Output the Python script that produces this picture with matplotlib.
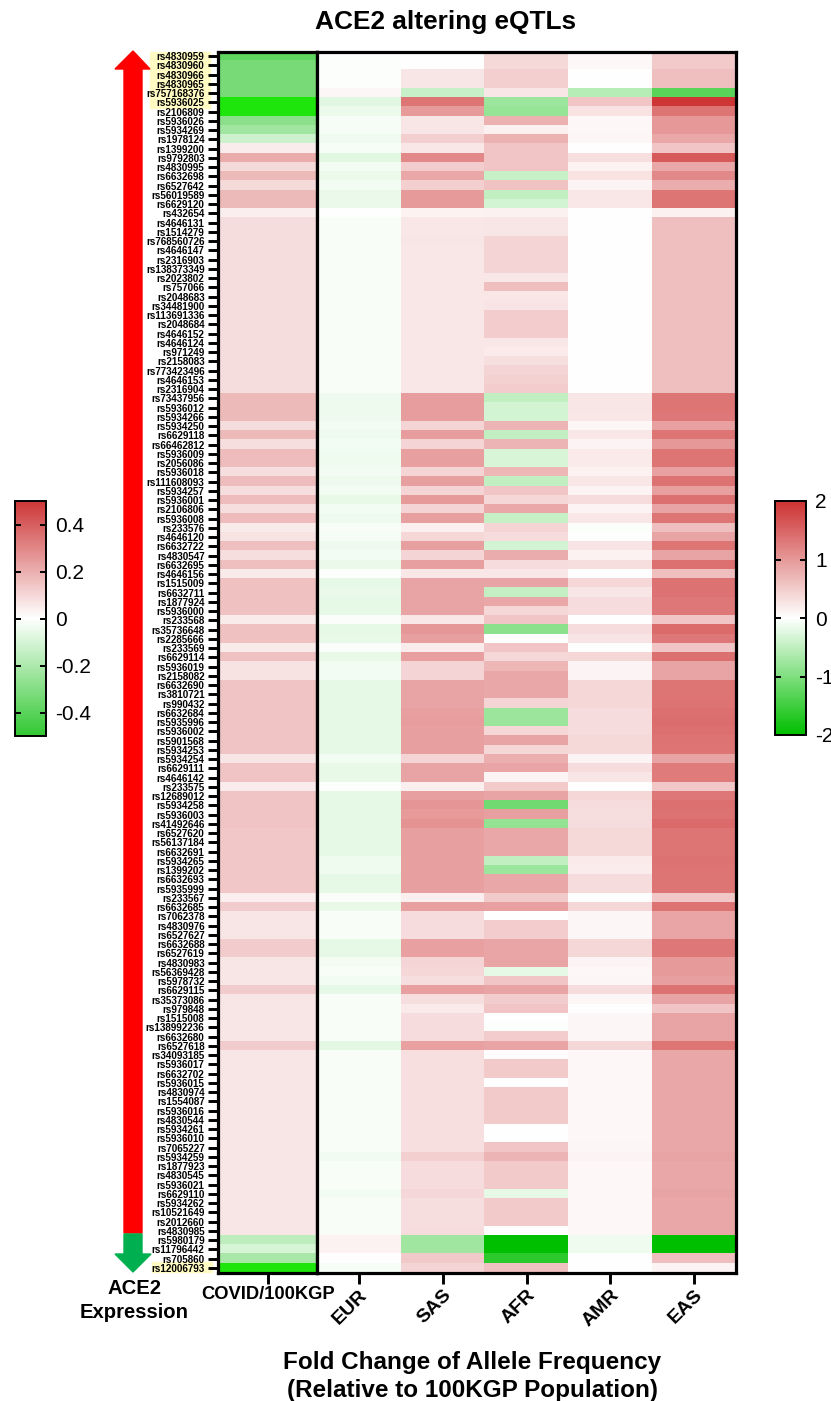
import matplotlib
matplotlib.use("Agg")
import matplotlib.pyplot as plt
import numpy as np
from matplotlib.cm import ScalarMappable
from matplotlib.colors import LinearSegmentedColormap, Normalize
from matplotlib.patches import Polygon, Rectangle

plt.rcParams['font.family'] = ['Liberation Sans', 'DejaVu Sans']
plt.rcParams['axes.unicode_minus'] = False

snps = ['rs4830959', 'rs4830960', 'rs4830966', 'rs4830965', 'rs757168376', 'rs5936025', 'rs2106809', 'rs5936026', 'rs5934269', 'rs1978124',
        'rs1399200', 'rs9792803', 'rs4830995', 'rs6632698', 'rs6527642', 'rs56019589', 'rs6629120', 'rs432654', 'rs4646131', 'rs1514279',
        'rs768560726', 'rs4646147', 'rs2316903', 'rs138373349', 'rs2023802', 'rs757066', 'rs2048683', 'rs34481900', 'rs113691336', 'rs2048684',
        'rs4646152', 'rs4646124', 'rs971249', 'rs2158083', 'rs773423496', 'rs4646153', 'rs2316904', 'rs73437956', 'rs5936012', 'rs5934266',
        'rs5934250', 'rs6629118', 'rs66462812', 'rs5936009', 'rs2056086', 'rs5936018', 'rs111608093', 'rs5934257', 'rs5936001', 'rs2106806',
        'rs5936008', 'rs233576', 'rs4646120', 'rs6632722', 'rs4830547', 'rs6632695', 'rs4646156', 'rs1515009', 'rs6632711', 'rs1877924',
        'rs5936000', 'rs233568', 'rs35736648', 'rs2285666', 'rs233569', 'rs6629114', 'rs5936019', 'rs2158082', 'rs6632690', 'rs3810721',
        'rs990432', 'rs6632684', 'rs5935996', 'rs5936002', 'rs5901568', 'rs5934253', 'rs5934254', 'rs6629111', 'rs4646142', 'rs233575',
        'rs12689012', 'rs5934258', 'rs5936003', 'rs41492646', 'rs6527620', 'rs56137184', 'rs6632691', 'rs5934265', 'rs1399202', 'rs6632693',
        'rs5935999', 'rs233567', 'rs6632685', 'rs7062378', 'rs4830976', 'rs6527627', 'rs6632688', 'rs6527619', 'rs4830983', 'rs56369428',
        'rs5978732', 'rs6629115', 'rs35373086', 'rs979848', 'rs1515008', 'rs138992236', 'rs6632680', 'rs6527618', 'rs34093185', 'rs5936017',
        'rs6632702', 'rs5936015', 'rs4830974', 'rs1554087', 'rs5936016', 'rs4830544', 'rs5934261', 'rs5936010', 'rs7065227', 'rs5934259',
        'rs1877923', 'rs4830545', 'rs5936021', 'rs6629110', 'rs5934262', 'rs10521649', 'rs2012660', 'rs4830985', 'rs5980179', 'rs11796442',
        'rs705860', 'rs12006793']

covid = [-.39, -.33, -.33, -.33, -.33, -.6, -.6, -.28, -.23, -.125,
         .045, .21, .09, .17, .09, .17, .17, .04, .085, .085,
         .085, .085, .085, .085, .085, .085, .085, .085, .085, .085,
         .085, .085, .085, .085, .085, .085, .085, .17, .17, .17,
         .085, .17, .08, .165, .165, .08, .165, .08, .165, .08,
         .165, .05, .07, .16, .08, .16, .05, .155, .155, .155,
         .155, .05, .155, .155, .05, .155, .07, .07, .145, .145,
         .145, .145, .145, .145, .145, .145, .06, .145, .145, .045,
         .145, .145, .145, .145, .14, .14, .14, .14, .14, .14,
         .14, .04, .125, .065, .065, .065, .125, .125, .06, .06,
         .06, .125, .065, .06, .065, .06, .06, .125, .065, .065,
         .065, .065, .065, .065, .065, .065, .065, .065, .065, .065,
         .065, .065, .065, .065, .065, .065, .065, .065, -.16, -.1,
         -.21, -.6]

eur = [-.02, -.02, -.02, -.02, .08, -.22, -.15, -.07, -.07, -.12,
       -.07, -.24, -.08, -.15, -.09, -.16, -.16, 0, -.05, -.05,
       -.05, -.05, -.05, -.05, -.05, -.05, -.05, -.05, -.05, -.05,
       -.05, -.05, -.05, -.05, -.05, -.05, -.05, -.14, -.14, -.14,
       -.08, -.14, -.09, -.12, -.12, -.08, -.14, -.09, -.18, -.08,
       -.14, -.05, -.07, -.14, -.08, -.17, -.02, -.19, -.16, -.2,
       -.2, -.04, -.2, -.18, -.04, -.18, -.09, -.09, -.2, -.2,
       -.2, -.2, -.2, -.2, -.2, -.2, -.08, -.18, -.18, -.03,
       -.2, -.2, -.2, -.2, -.2, -.2, -.2, -.12, -.12, -.2,
       -.2, -.04, -.18, -.05, -.05, -.05, -.2, -.2, -.08, -.05,
       -.08, -.2, -.06, -.05, -.06, -.05, -.05, -.21, -.06, -.06,
       -.06, -.06, -.06, -.06, -.06, -.06, -.06, -.06, -.06, -.1,
       -.06, -.06, -.06, -.09, -.06, -.06, -.06, -.06, .12, .12,
       0, -.07]

sas = [0, 0, .24, .24, -.43, 1.33, .98, .24, .24, .46,
       .22, 1.15, .48, .85, .46, .98, .98, .12, .22, .22,
       .24, .22, .22, .22, .22, .22, .22, .22, .22, .22,
       .22, .22, .22, .22, .22, .22, .22, .95, .95, .95,
       .41, .95, .41, .93, .93, .41, .93, .42, .97, .41,
       .93, .15, .38, .93, .41, .93, .22, .89, .89, .89,
       .89, .22, 1.0, .93, .18, .93, .42, .42, .89, .89,
       .88, .93, .95, .93, .93, .93, .41, .89, .89, .17,
       .93, 1.03, .97, 1.05, .93, .93, .93, .93, .93, .93,
       .93, .17, .93, .34, .34, .34, .91, .91, .41, .38,
       .32, .93, .32, .19, .34, .34, .34, .91, .31, .31,
       .31, .31, .31, .31, .31, .31, .31, .31, .31, .46,
       .33, .33, .33, .38, .32, .32, .32, .34, -.74, -.74,
       .52, .42]

afr = [.36, .36, .46, .46, .24, -.78, -.82, .74, .13, .74,
       .56, .56, .56, -.45, .58, -.48, -.33, .13, .24, .24,
       .42, .42, .42, .42, .22, .62, .22, .25, .47, .47,
       .47, .22, .2, .3, .42, .45, .48, -.48, -.33, -.33,
       .72, -.48, .72, -.3, -.3, .7, -.48, .55, .38, .83,
       -.45, .42, .34, -.34, .8, .34, .22, .89, -.46, .85,
       .38, .55, -.9, 0, .56, .38, .7, .85, .85, .85,
       .41, -.78, -.78, .38, .89, .38, .77, .87, .1, .5,
       .89, -1.1, .93, -.83, .85, .85, .85, -.47, -.77, .85,
       .85, .5, .91, 0, .48, .48, .87, .87, .87, -.2,
       .55, .89, .48, .55, 0, -.02, .48, .87, .02, .5,
       .5, 0, .5, .5, .5, .5, 0, 0, .55, .72,
       .5, .5, .5, -.2, .5, .5, .5, 0, -2, -2,
       -1.65, .58]

amr = [.07, .07, 0, 0, -.57, .56, .28, .07, .07, .09,
       0, .3, .12, .28, .1, .22, .22, 0, .01, .01,
       .01, .01, .01, .01, .01, .01, .01, .01, .01, .01,
       .01, .01, .01, .01, .01, .01, .01, .24, .24, .22,
       .09, .22, .1, .2, .2, .11, .22, .1, .34, .1,
       .22, -.02, .01, .26, .12, .32, 0, .38, .24, .34,
       .34, 0, .34, .26, 0, .38, .1, .1, .38, .38,
       .38, .34, .34, .34, .36, .36, .1, .34, .24, 0,
       .38, .34, .32, .34, .36, .36, .36, .2, .18, .34,
       .34, 0, .38, .09, .09, .09, .38, .38, .1, .07,
       .09, .34, .09, 0, .09, .09, .09, .38, .07, .07,
       .07, .07, .07, .07, .07, .07, .07, .07, .08, .1,
       .07, .07, .07, .07, .07, .07, .07, .07, -.12, -.12,
       0, 0]

eas = [.5, .5, .62, .62, -1.29, 1.95, 1.34, .99, .99, .85,
       .56, 1.6, .85, 1.15, .8, 1.34, 1.34, .13, .62, .62,
       .62, .62, .62, .62, .62, .62, .62, .62, .62, .62,
       .62, .62, .62, .62, .62, .62, .62, 1.33, 1.33, 1.3,
       .91, 1.34, .99, 1.34, 1.34, .91, 1.36, .93, 1.39, .89,
       1.34, .62, .89, 1.34, .89, 1.39, .62, 1.36, 1.36, 1.3,
       1.3, .56, 1.43, 1.3, .56, 1.39, .89, .89, 1.33, 1.33,
       1.35, 1.39, 1.42, 1.39, 1.35, 1.33, .89, 1.28, 1.28, .54,
       1.3, 1.39, 1.36, 1.43, 1.33, 1.33, 1.33, 1.36, 1.34, 1.33,
       1.33, .54, 1.36, .87, .87, .87, 1.3, 1.3, .97, .97,
       .93, 1.36, .89, .56, .89, .89, .89, 1.33, .85, .85,
       .85, .85, .85, .85, .85, .85, .85, .85, .85, .89,
       .85, .85, .85, .89, .85, .85, .85, .85, -2, -2,
       .62, .1]

pop_labels = ['EUR', 'SAS', 'AFR', 'AMR', 'EAS']
left_ticks = [-0.4, -0.2, 0, 0.2, 0.4]
left_tick_labels = ['-0.4', '-0.2', '0', '0.2', '0.4']
right_ticks = [-2, -1, 0, 1, 2]

W, H = 831, 1401
fig = plt.figure(figsize=(W / 100, H / 100), dpi=100)


def px_box(x0, y0, x1, y1):
    # pixel box (top left origin) to figure coordinates
    return [x0 / W, 1 - y1 / H, (x1 - x0) / W, (y1 - y0) / H]


def fx(x):
    return x / W


def fy(y):
    return 1 - y / H


cmap_left = LinearSegmentedColormap.from_list('left', ['#32c832', '#ffffff', '#cd3737'])
cmap_left.set_under('#1ee60c')  # rows past the end of the scale are brighter
cmap_right = LinearSegmentedColormap.from_list('right', ['#00be00', '#ffffff', '#cd3232'])
norm_left = Normalize(-0.5, 0.5)
norm_right = Normalize(-2, 2)

ax1 = fig.add_axes(px_box(218.5, 51.5, 317, 1272.5))
ax2 = fig.add_axes(px_box(317, 51.5, 736, 1272.5))

ax1.imshow(np.array(covid).reshape(-1, 1), aspect='auto', cmap=cmap_left, norm=norm_left, interpolation='nearest')
ax2.imshow(np.column_stack([eur, sas, afr, amr, eas]), aspect='auto', cmap=cmap_right, norm=norm_right, interpolation='nearest')

ax1.set_yticks(np.arange(len(snps)))
ax1.set_yticklabels(snps, fontsize=7.1, fontweight='bold')
ax1.tick_params(axis='y', length=7.5, width=2.1, pad=2.5)
ax1.set_xticks([0])
ax1.set_xticklabels(['COVID/100KGP'], fontsize=13.2, fontweight='bold')
ax1.tick_params(axis='x', length=8, width=2.1, pad=1.5)

ax2.set_yticks([])
ax2.set_xticks(np.arange(len(pop_labels)))
ax2.set_xticklabels(pop_labels, fontsize=14, fontweight='bold', rotation=45, ha='right', rotation_mode='anchor')
ax2.tick_params(axis='x', length=8, width=2.1, pad=2)

for ax in [ax1, ax2]:
    for s in ax.spines.values():
        s.set_linewidth(2.3)

# yellow behind the top and bottom labels
fig.patches.append(Rectangle((fx(150), fy(108)), 60 / W, 56 / H, transform=fig.transFigure, color='#fffbc2', zorder=-1))
fig.patches.append(Rectangle((fx(152), fy(1272)), 60 / W, 10 / H, transform=fig.transFigure, color='#fffbc2', zorder=-1))

# expression arrows
red_arrow = [(124, 1233), (124, 69), (115, 69), (133, 51), (150, 69), (142, 69), (142, 1233)]
green_arrow = [(124, 1234), (124, 1254), (115, 1254), (133, 1272), (151, 1254), (142, 1254), (142, 1234)]
fig.patches.append(Polygon([(fx(a), fy(b)) for a, b in red_arrow], transform=fig.transFigure, color='#ff0000'))
fig.patches.append(Polygon([(fx(a), fy(b)) for a, b in green_arrow], transform=fig.transFigure, color='#00b050'))

fig.text(fx(446), fy(22), 'ACE2 altering eQTLs', fontsize=18.9, fontweight='bold', ha='center', va='center')
fig.text(fx(134), fy(1288), 'ACE2', fontsize=14.6, fontweight='bold', ha='center', va='center')
fig.text(fx(134), fy(1313), 'Expression', fontsize=14.6, fontweight='bold', ha='center', va='center')
fig.text(fx(472), fy(1362), 'Fold Change of Allele Frequency', fontsize=17.5, fontweight='bold', ha='center', va='center')
fig.text(fx(472), fy(1390), '(Relative to 100KGP Population)', fontsize=17.5, fontweight='bold', ha='center', va='center')

# colour bars
cax1 = fig.add_axes(px_box(14.5, 501, 46, 736))
cb1 = fig.colorbar(ScalarMappable(norm_left, cmap_left), cax=cax1, ticks=left_ticks)
cb1.ax.set_yticklabels(left_tick_labels)
cax2 = fig.add_axes(px_box(775, 501, 806, 735))
cb2 = fig.colorbar(ScalarMappable(norm_right, cmap_right), cax=cax2, ticks=right_ticks)
cb2.ax.set_yticklabels([str(t) for t in right_ticks])
for cb in [cb1, cb2]:
    cb.outline.set_linewidth(1.4)
    cb.ax.tick_params(direction='in', left=True, right=True, length=4.5, width=1.4, labelsize=15, pad=6.5)

fig.savefig('out.png', dpi=100)
